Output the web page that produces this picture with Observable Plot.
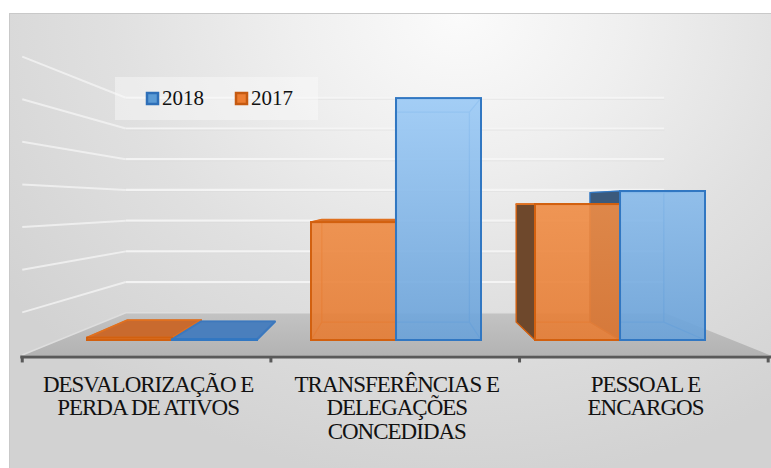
<!DOCTYPE html>
<html>
<head>
<meta charset="utf-8">
<script src="https://cdn.jsdelivr.net/npm/d3@7"></script>
<script src="https://cdn.jsdelivr.net/npm/@observablehq/plot@0.6"></script>
<style>
  html, body { margin: 0; padding: 0; background: #ffffff; }
  #wrap { position: relative; width: 771px; height: 468px; overflow: hidden; }
  #bg {
    position: absolute; left: 9px; top: 13px; width: 770px; height: 470px;
    border-top: 1px solid #c9c9c9; border-left: 1px solid #c9c9c9;
    background: radial-gradient(ellipse 560px 470px at 450px 0px, #fbfbfb 0%, #efefef 30%, #e0e0e0 62%, #d2d2d2 100%);
  }
  #chart { position: absolute; left: 0; top: 0; }
  #chart text, #chart tspan { font-family: "Liberation Serif", "Times New Roman", serif !important; letter-spacing: -1px; }
  #legendBox {
    position: absolute; left: 115px; top: 77px; width: 203px; height: 43px;
    background: rgba(250,250,250,0.45); display: flex; align-items: center; padding-left: 32px; box-sizing: border-box;
    white-space: nowrap; overflow: visible;
  }
  #legendBox, #legendBox * { font-family: "Liberation Serif", "Times New Roman", serif !important; font-size: 21px !important; color: #111 !important; }
  #legendBox > div { flex-wrap: nowrap !important; width: auto !important; min-height: 0 !important; margin: 0 !important; }
  #legendBox span { margin-right: 32px !important; display: inline-flex; align-items: center; }
  #legendBox span:last-of-type { margin-right: 0 !important; }
  #legendBox svg { margin-right: 4px !important; }
  #legendBox span:nth-of-type(1) rect { stroke: #2e6fb8; stroke-width: 2.5px; }
  #legendBox span:nth-of-type(2) rect { stroke: #c55a11; stroke-width: 2.5px; }
</style>
</head>
<body>
<div id="wrap"><div id="bg"></div><div id="chart"></div><div id="legendBox"></div></div>
<script>
// ---- data ----
const categories = ["DESVALORIZAÇÃO E\nPERDA DE ATIVOS", "TRANSFERÊNCIAS E\nDELEGAÇÕES\nCONCEDIDAS", "PESSOAL E\nENCARGOS"];
const seriesNames = ["2018", "2017"];
const values2018 = [0.02, 6.30, 3.88];
const values2017 = [0.06, 3.07, 3.54];
const gridTicks = [0, 1, 2, 3, 4, 5, 6, 7];
const seriesColors = ["#5b9bd5", "#ed7d31"];

// ---- 3D look (one-point perspective) ----
const VX = 393, VY = 204;          // vanishing point
const KB = 0.868, KW = 0.80, KF = 1.11; // depth of bar backs, back wall, floor front
const P = (px, py, k) => [VX + k * (px - VX), VY + k * (py - VY)];
const STYLE = {
  "2018": {edge: "#3f80c8", side: "#3b5a7c", top: "#4a7fbd", topStroke: "#3d78bd", stroke: "#3177c2", fill: "url(#gB)"},
  "2017": {edge: "#d0651c", side: "#6e482c", top: "#c96a2e", topStroke: "#e0701f", stroke: "#d2600f", fill: "url(#gO)"}
};
const SERIF = "Liberation Serif, Times New Roman, serif";

const W = 771, H = 468;
const mL = 59, mR = 39, mT = 71.2, mB = 128;
const padIn = 0.242, padOut = 0.121;
const xb = d3.scaleBand(categories, [mL, W - mR]).paddingInner(padIn).paddingOuter(padOut);
const half = xb.bandwidth() / 2;

function walls(index, {x, y}) {
  const g = d3.create("svg:g");
  const defs = g.append("defs");
  const y0 = y(0), yMax = y(d3.max(gridTicks));
  const grad = (id, c1, c2, a, b) => {
    const lg = defs.append("linearGradient").attr("id", id).attr("gradientUnits", "userSpaceOnUse")
      .attr("x1", 0).attr("x2", 0).attr("y1", a).attr("y2", b);
    lg.append("stop").attr("offset", 0).attr("stop-color", c1);
    lg.append("stop").attr("offset", 1).attr("stop-color", c2);
  };
  grad("gB", "#a0cef9", "#6aa2d9", yMax, y0);
  grad("gO", "#f99c55", "#e67c33", yMax, y0);
  const [xl, xr] = x.range();
  grad("gF", "#c3c3c3", "#b3b3b3", P(xl, y0, KW)[1], P(xl, y0, KF)[1]);
  const floor = [P(xl, y0, KF), P(xr, y0, KF), P(xr, y0, KW), P(xl, y0, KW)];
  g.append("path").attr("d", "M" + floor.join("L") + "Z").attr("fill", "url(#gF)");
  g.append("path").attr("d", "M" + P(xl, y0, KF) + "L" + P(xl, y0, KW) + "L" + P(xr, y0, KW))
    .attr("fill", "none").attr("stroke", "#dedede").attr("stroke-width", 1.5);
  for (const t of gridTicks.slice(1)) {
    const a = P(xl, y(t), KW), b = P(xr, y(t), KW), c = P(xl, y(t), KF);
    g.append("path").attr("d", "M" + c + "L" + a).attr("stroke", "#f4f4f4").attr("stroke-width", 2).attr("opacity", 0.8);
    g.append("path").attr("d", "M" + a + "L" + b).attr("stroke", "#f6f6f6").attr("stroke-width", 2.2).attr("opacity", 0.9);
    g.append("path").attr("d", "M" + [a[0], a[1] + 1.6] + "L" + [b[0], b[1] + 1.6]).attr("stroke", "#d9d9d9").attr("stroke-width", 0.8).attr("opacity", 0.5);
  }
  return g.node();
}

function boxes(index, {x, y}) {
  const g = d3.create("svg:g");
  const hw = x.bandwidth() / 2, y0 = y(0);
  const items = [];
  categories.forEach((c, i) => {
    items.push({x1: x(c), x2: x(c) + hw, v: values2017[i], s: "2017"});
    items.push({x1: x(c) + hw, x2: x(c) + 2 * hw, v: values2018[i], s: "2018"});
  });
  items.sort((a, b) => Math.abs((b.x1 + b.x2) / 2 - VX) - Math.abs((a.x1 + a.x2) / 2 - VX));
  const poly = (pts, fill, stroke, sw) => g.append("path").attr("d", "M" + pts.join("L") + "Z")
    .attr("fill", fill).attr("stroke", stroke).attr("stroke-width", sw).attr("stroke-linejoin", "round");
  for (const it of items) {
    const st = STYLE[it.s];
    const yt = y(it.v);
    const ftl = [it.x1, yt], ftr = [it.x2, yt], fbr = [it.x2, y0], fbl = [it.x1, y0];
    const btl = P(it.x1, yt, KB), btr = P(it.x2, yt, KB), bbr = P(it.x2, y0, KB), bbl = P(it.x1, y0, KB);
    g.append("path")
      .attr("d", "M" + [btl, btr, bbr, bbl].join("L") + "Z" + "M" + ftr + "L" + btr + "M" + fbr + "L" + bbr + "M" + ftl + "L" + btl + "M" + fbl + "L" + bbl)
      .attr("fill", "none").attr("stroke", st.edge).attr("stroke-width", 1.3).attr("opacity", 0.75);
    if (it.x2 < VX) poly([ftr, btr, bbr, fbr], st.side, st.stroke, 1.2);
    if (it.x1 > VX) poly([ftl, btl, bbl, fbl], st.side, st.stroke, 1.2);
    if (yt > VY) poly([ftl, ftr, btr, btl], st.top, st.topStroke, 1.8);
  }
  return g.node();
}

function axisLine(index, {x, y}) {
  const g = d3.create("svg:g");
  const [xl, xr] = x.range();
  const y0 = y(0);
  const a = P(xl, y0, KF), b = P(xr, y0, KF);
  const ya = a[1] + 2;
  g.append("path").attr("d", `M${a[0] - 2},${ya}L${b[0] + 2},${ya}`).attr("stroke", "#595959").attr("stroke-width", 3);
  for (let i = 0; i <= categories.length; i++) {
    const p = P(xl + i * x.step(), y0, KF);
    g.append("path").attr("d", `M${p[0]},${ya}L${p[0]},${ya + 5.5}`).attr("stroke", "#595959").attr("stroke-width", 3);
  }
  return g.node();
}

const labelMarks = categories.map((c) => {
  const cx = xb(c) + xb.bandwidth() / 2;
  const shift = P(cx, 0, KF)[0] - cx;
  return Plot.text([c], {
    x: d => d, frameAnchor: "bottom", dy: 34.7, dx: shift, lineAnchor: "top", lineHeight: 1.02,
    fontSize: 23, fontFamily: SERIF, fill: "#111111", text: d => d
  });
});

const chart = Plot.plot({
  width: W, height: H,
  marginLeft: mL, marginRight: mR, marginTop: mT, marginBottom: mB,
  style: {background: "transparent", overflow: "visible", fontFamily: SERIF},
  x: {domain: categories, paddingInner: padIn, paddingOuter: padOut, axis: null},
  y: {domain: [0, d3.max(gridTicks)], axis: null},
  marks: [
    walls,
    boxes,
    Plot.barY(categories, {x: d => d, y: (d, i) => values2017[i], insetRight: half, fill: STYLE["2017"].fill, fillOpacity: 0.9, stroke: STYLE["2017"].stroke, strokeWidth: 2}),
    Plot.barY(categories, {x: d => d, y: (d, i) => values2018[i], insetLeft: half, fill: STYLE["2018"].fill, fillOpacity: 0.9, stroke: STYLE["2018"].stroke, strokeWidth: 2}),
    axisLine,
    ...labelMarks
  ]
});
document.getElementById("chart").appendChild(chart);

const legend = Plot.legend({
  color: {type: "ordinal", domain: seriesNames, range: seriesColors},
  swatchSize: 11,
  style: {fontFamily: SERIF, fontSize: "21px", color: "#111"}
});
document.getElementById("legendBox").appendChild(legend);
</script>
</body>
</html>
